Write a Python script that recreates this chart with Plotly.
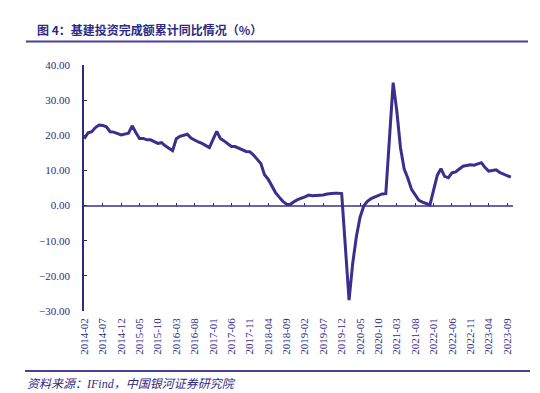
import pandas as pd
import plotly.graph_objects as go

# ---- data (cumulative YoY %, monthly; January not published) ----
y2014 = [19.0, 20.7, 21.0, 22.2, 22.9, 22.8, 22.4, 21.0, 20.9, 20.6, 20.1]  # Feb-Dec
y2015 = [None, 20.6, 22.7, 20.8, 19.1, 19.1, 18.7, 18.7, 18.2, 17.7, 17.9, 17.0]
y2016 = [None, 15.6, 19.0, 19.7, 19.9, 20.3, 19.2, 18.6, 18.1, 17.7, 17.2, 16.5]
y2017 = [None, 21.1, 19.1, 18.4, 17.6, 16.8, 16.8, 16.3, 15.9, 15.4, 15.3, 14.4]
y2018 = [None, 12.0, 8.8, 7.5, 5.5, 3.7, 2.4, 1.2, 0.4, 0.3, 1.1, 1.7]
y2019 = [None, 2.5, 3.0, 2.8, 2.8, 3.0, 3.0, 3.3, 3.5, 3.5, 3.5, 3.4]
y2020 = [None, -26.9, -16.4, -8.8, -3.3, -0.1, 1.2, 2.0, 2.4, 3.0, 3.3, 3.4]
y2021 = [None, 35.0, 26.8, 16.4, 10.4, 7.8, 4.6, 2.9, 1.5, 1.0, 0.5, 0.2]
y2022 = [None, 8.6, 10.5, 8.3, 7.9, 9.3, 9.6, 10.4, 11.2, 11.4, 11.6, 11.5]
y2023 = [None, 12.2, 10.8, 9.8, 10.0, 10.2, 9.4, 9.0, 8.6, 8.1]  # Jan-Oct

months = pd.date_range("2014-02-01", "2023-10-01", freq="MS").strftime("%Y-%m").tolist()
values = y2014 + y2015 + y2016 + y2017 + y2018 + y2019 + y2020 + y2021 + y2022 + y2023

tick_labels = ["2014-02", "2014-07", "2014-12", "2015-05", "2015-10", "2016-03",
               "2016-08", "2017-01", "2017-06", "2017-11", "2018-04", "2018-09",
               "2019-02", "2019-07", "2019-12", "2020-05", "2020-10", "2021-03",
               "2021-08", "2022-01", "2022-06", "2022-11", "2023-04", "2023-09"]

title_text = "图 4：基建投资完成额累计同比情况（%）"
source_text = "资料来源：IFind，中国银河证券研究院"

# ---- styling (pixel positions in the 540x393 window; page body has 8px margin) ----
OFF = 8
W, H = 540 - OFF, 393 - OFF
PL, PR, PT, PB = 84, 513, 65, 311          # plot area in window pixels
L, R, T, B = PL - OFF, W - (PR - OFF), PT - OFF, H - (PB - OFF)
NAVY = "#2E2A84"
LINE = "#3A2F8C"
ZERO = "#6B60B2"
x_range = [-0.1, 116.6]
SERIF = "Liberation Serif, DejaVu Serif, serif"

def px_x(px):
    return (px - PL) / (PR - PL)

def px_y(py):
    return (PB - py) / (PB - PT)

fig = go.Figure()
fig.add_trace(go.Scatter(x=months, y=values, mode="lines", connectgaps=True,
                         line=dict(color=LINE, width=3), hoverinfo="skip",
                         showlegend=False))
fig.add_trace(go.Scatter(x=[0], y=[None], xaxis="x2", showlegend=False,
                         hoverinfo="skip"))

tick_font = dict(family=SERIF, size=11, color=NAVY)

fig.update_layout(
    width=W, height=H,
    margin=dict(l=L, r=R, t=T, b=B),
    paper_bgcolor="white", plot_bgcolor="white",
    showlegend=False,
    font=dict(family=SERIF, color=NAVY),
    xaxis=dict(type="category", categoryorder="array", categoryarray=months,
               range=x_range, tickvals=tick_labels, ticktext=tick_labels,
               tickangle=-90, showline=False, ticks="", showgrid=False,
               zeroline=False, tickfont=tick_font, ticklabelstandoff=4),
    xaxis2=dict(overlaying="x", anchor="free", position=30 / 70, side="bottom",
                range=x_range, tickvals=list(range(0, 117, 5)),
                ticks="inside", ticklen=3, tickwidth=1, tickcolor=NAVY,
                showticklabels=False, showline=False, showgrid=False,
                zeroline=False),
    yaxis=dict(range=[-30, 40], dtick=10, tickformat=".2f",
               showline=True, linecolor=NAVY, linewidth=1.5,
               ticks="inside", ticklen=3, tickcolor=NAVY,
               showgrid=False, zeroline=True, zerolinecolor=ZERO,
               zerolinewidth=2, tickfont=tick_font, ticklabelstandoff=10),
    shapes=[
        dict(type="line", xref="paper", yref="paper", x0=px_x(26), x1=px_x(528),
             y0=px_y(41.5), y1=px_y(41.5), line=dict(color="#4B3F9E", width=2)),
        dict(type="line", xref="paper", yref="paper", x0=px_x(25), x1=px_x(530),
             y0=px_y(371), y1=px_y(371), line=dict(color="#4B3F9E", width=2)),
    ],
    annotations=[
        dict(text="<b>" + title_text + "</b>", xref="paper", yref="paper",
             x=px_x(35), y=px_y(29), xanchor="left", yanchor="middle",
             showarrow=False,
             font=dict(family="Noto Sans CJK SC", size=12, color=NAVY)),
        dict(text="<i>" + source_text + "</i>", xref="paper", yref="paper",
             x=px_x(25), y=px_y(384), xanchor="left", yanchor="middle",
             showarrow=False,
             font=dict(family="Liberation Serif, Noto Sans CJK SC", size=12,
                       color=NAVY)),
    ],
)

fig.write_html("out.html")
